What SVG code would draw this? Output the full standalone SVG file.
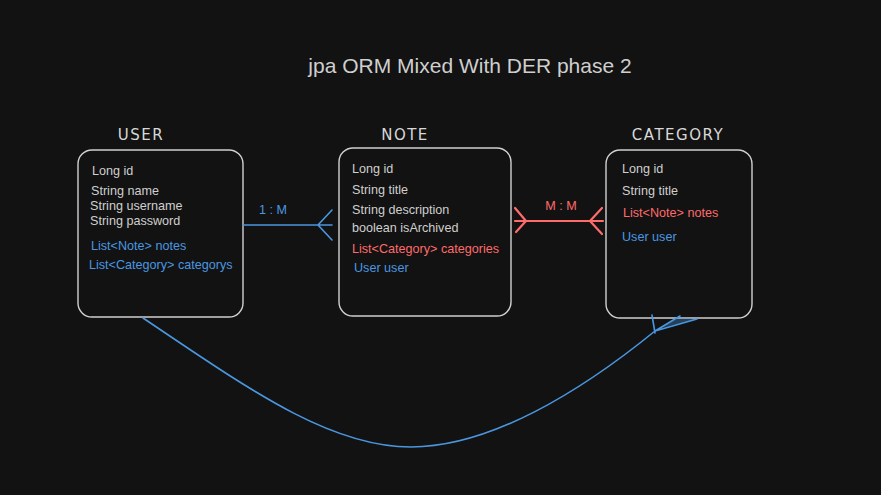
<svg xmlns="http://www.w3.org/2000/svg" width="881" height="495" viewBox="0 0 881 495">
<style>
.box{fill:none;stroke:#d0d0d0;stroke-width:1.4}
.t{font-family:"Liberation Sans",Arial,sans-serif;font-size:12.6px;fill:#cfcfcf}
.b{fill:#4a97e0}
.r{fill:#ff6b6b}
.h{font-family:"DejaVu Sans",sans-serif;font-size:15px;fill:#d8d8d8;text-anchor:middle;letter-spacing:1.5px}
.bl{stroke:#4a97e0;fill:none;stroke-width:1.6;stroke-linecap:round}
.rl{stroke:#ff6b6b;fill:none;stroke-width:2.2;stroke-linecap:round}
</style>
<rect width="881" height="495" fill="#121212"/>
<text x="470" y="73" font-family="Liberation Sans,Arial,sans-serif" font-size="21" fill="#cfcfcf" text-anchor="middle">jpa ORM Mixed With DER phase 2</text>
<g id="user">
<text class="h" x="141" y="140">USER</text>
<rect class="box" x="78" y="150" width="165" height="167" rx="14"/>
<text class="t" x="92" y="175">Long id</text>
<text class="t" x="91" y="195">String name</text>
<text class="t" x="90" y="210">String username</text>
<text class="t" x="90" y="224.5">String password</text>
<text class="t b" x="91" y="250">List&lt;Note&gt; notes</text>
<text class="t b" x="89" y="269">List&lt;Category&gt; categorys</text>
</g>
<g id="note">
<text class="h" x="405" y="140">NOTE</text>
<rect class="box" x="339" y="148" width="172" height="168" rx="14"/>
<text class="t" x="352" y="173">Long id</text>
<text class="t" x="352" y="194">String title</text>
<text class="t" x="352" y="214">String description</text>
<text class="t" x="352" y="232">boolean isArchived</text>
<text class="t r" x="352" y="253">List&lt;Category&gt; categories</text>
<text class="t b" x="354" y="272">User user</text>
</g>
<g id="category">
<text class="h" x="678" y="140">CATEGORY</text>
<rect class="box" x="606" y="150" width="146" height="168" rx="14"/>
<text class="t" x="622" y="173">Long id</text>
<text class="t" x="622" y="195">String title</text>
<text class="t r" x="623" y="217">List&lt;Note&gt; notes</text>
<text class="t b" x="622" y="241">User user</text>
</g>
<g id="connectors">
<path class="bl" d="M243,225 L332,225 M332,210 L318,225 L332,240"/>
<text class="t b" x="273" y="214" text-anchor="middle">1 : M</text>
<path class="rl" d="M515,221 L603,221 M515,208 L526,221 L516,232 M602,208 L590,221 L602,234"/>
<text class="t r" x="561" y="210" text-anchor="middle">M : M</text>
<path class="bl" d="M143,318 C250,390 330,447 411,447 C490,447 580,392 655,331"/>
<path class="bl" d="M652,315 L655,333 M655,331 L680,316 M655,331 L697,319"/>
<path d="M657,329 L680,317 L697,319 Z" fill="#4a97e0" fill-opacity="0.35"/>
</g>
</svg>
